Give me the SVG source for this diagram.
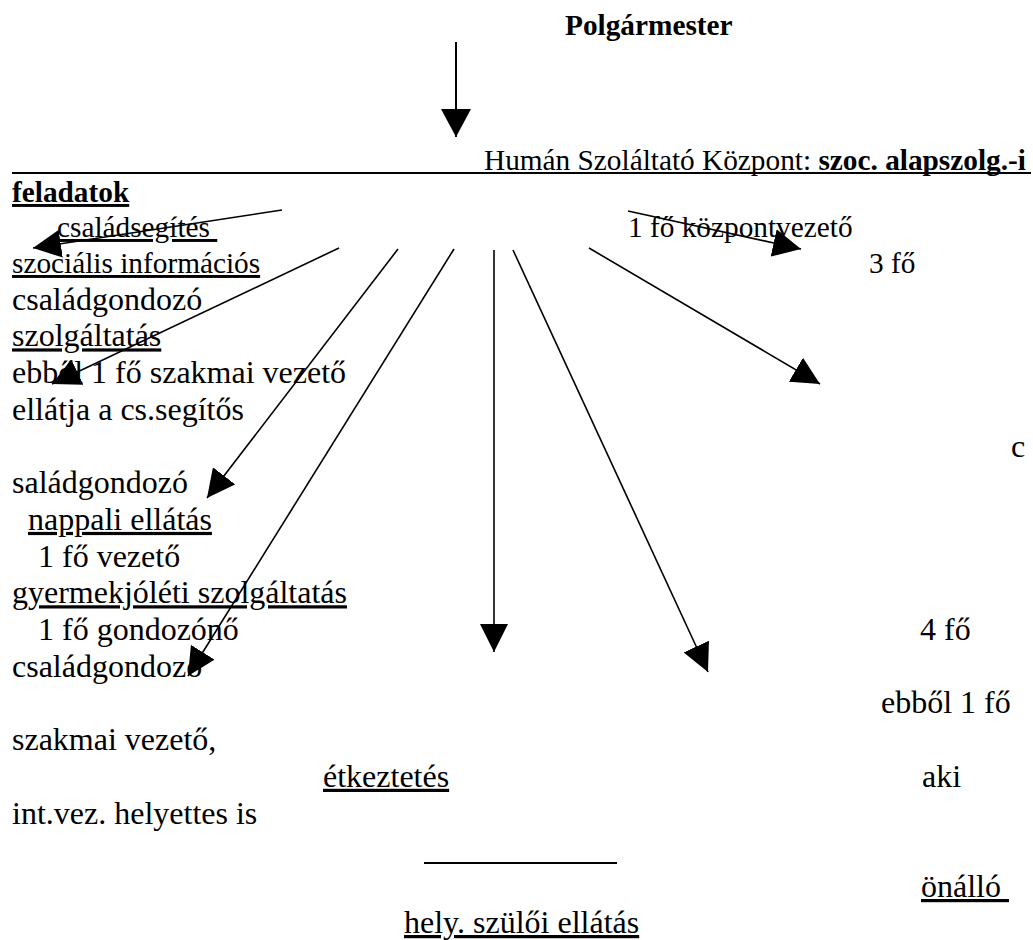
<svg xmlns="http://www.w3.org/2000/svg" width="1033" height="940" viewBox="0 0 1033 940">
<style>
text{font-family:"Liberation Serif","Times New Roman",serif;fill:#000;white-space:pre}
.s{font-size:29.3px}
.m{font-size:32px}
.b{font-weight:bold}
.u{text-decoration:underline;text-decoration-skip-ink:none}
.c{stroke:#000;stroke-width:1.6;fill:none;marker-end:url(#ah)}
.rule{stroke:#000;stroke-width:2.2}
</style>
<defs>
<marker id="ah" markerUnits="userSpaceOnUse" markerWidth="28" markerHeight="28" refX="27" refY="13.5" orient="auto" viewBox="0 0 27 27">
<path d="M0,0 L27,13.5 L0,27 Z" fill="#000"/>
</marker>
<marker id="ah2" markerUnits="userSpaceOnUse" markerWidth="28" markerHeight="30" refX="27" refY="14.5" orient="auto" viewBox="0 0 27 29">
<path d="M0,0 L27,14.5 L0,29 Z" fill="#000"/>
</marker>
</defs>
<rect width="1033" height="940" fill="#fff"/>

<g id="polgarmester">
<text class="s b" x="565" y="35">Polgármester</text>
</g>

<g id="kozpont">
<text class="s" x="484" y="170">Humán Szoláltató Központ: <tspan class="b">szoc. alapszolg.-i</tspan></text>
<line class="rule" x1="12" y1="173" x2="1031" y2="173"/>
<text class="s b u" x="12" y="202">feladatok</text>
</g>

<g id="csaladsegites">
<text class="s u" x="57" y="237" xml:space="preserve">családsegítés </text>
<text class="s u" x="12" y="273">szociális információs</text>
<text class="m" x="12" y="309.7">családgondozó</text>
<text class="m u" x="12" y="346.4">szolgáltatás</text>
<text class="m" x="12" y="383.1">ebből 1 fő szakmai vezető</text>
<text class="m" x="12" y="419.8">ellátja a cs.segítős</text>
<text class="m" x="1011" y="456.5">c</text>
<text class="m" x="12" y="493.2">saládgondozó</text>
</g>

<g id="nappali">
<text class="m u" x="28" y="529.9">nappali ellátás</text>
<text class="m" x="38" y="566.6">1 fő vezető</text>
</g>

<g id="gyermekjoleti">
<text class="m u" x="12" y="603.3">gyermekjóléti szolgáltatás</text>
<text class="m" x="38" y="640">1 fő gondozónő</text>
<text class="m" x="12" y="676.7">családgondozó</text>
<text class="m" x="12" y="750.1">szakmai vezető,</text>
<text class="m" x="12" y="823.5">int.vez. helyettes is</text>
</g>

<g id="kozpontvezeto">
<text class="s" x="628" y="237">1 fő központvezető</text>
<text class="s" x="869" y="273">3 fő</text>
</g>

<g id="jobb-oszlop">
<text class="m" x="920" y="640">4 fő</text>
<text class="m" x="881" y="713.4">ebből 1 fő</text>
<text class="m" x="922" y="786.8">aki</text>
<text class="m u" x="921" y="897" xml:space="preserve">önálló </text>
</g>

<g id="etkeztetes">
<text class="m u" x="323" y="786.8">étkeztetés</text>
</g>

<g id="helyettes-szuloi">
<line class="rule" x1="424" y1="863" x2="617" y2="863"/>
<text class="m u" x="404" y="933">hely. szülői ellátás</text>
</g>

<g id="connectors">
<line x1="456" y1="42" x2="456" y2="137" stroke="#000" stroke-width="2" marker-end="url(#ah2)"/>
<line class="c" x1="282" y1="210" x2="33" y2="248"/>
<line class="c" x1="339" y1="248" x2="52" y2="384"/>
<line class="c" x1="398" y1="249" x2="207" y2="498"/>
<line class="c" x1="454" y1="249" x2="188" y2="676"/>
<line class="c" x1="494" y1="250" x2="494" y2="652"/>
<line class="c" x1="513" y1="250" x2="708" y2="672"/>
<line class="c" x1="589" y1="248" x2="820" y2="384"/>
<line class="c" x1="628" y1="211" x2="801" y2="249"/>
</g>
</svg>
